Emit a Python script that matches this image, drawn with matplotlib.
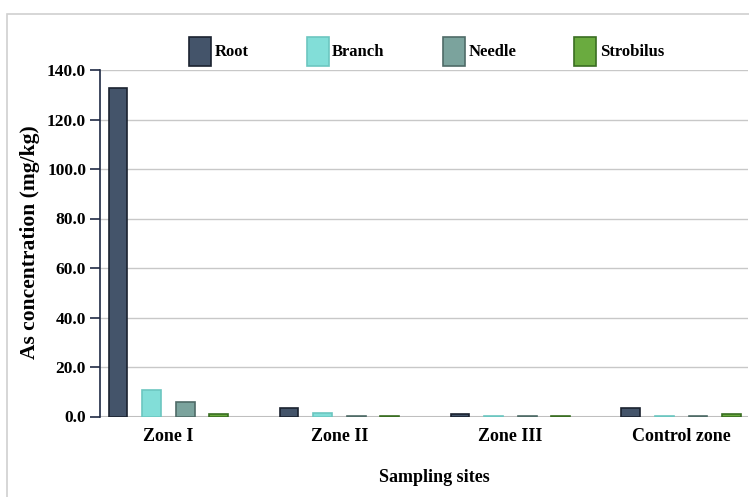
import numpy as np
import matplotlib.pyplot as plt
from matplotlib.patches import Rectangle

# data
sites = ["Zone I", "Zone II", "Zone III", "Control zone"]
root = [132.6, 3.6, 1.0, 3.6]
branch = [10.7, 1.3, 0.1, 0.05]
needle = [6.0, 0.4, 0.1, 0.2]
strobilus = [0.9, 0.2, 0.1, 0.9]

series = [("Root", root, "#44546A", "#1B2230"),
          ("Branch", branch, "#82DED8", "#6CC6C0"),
          ("Needle", needle, "#7BA39D", "#4F6B67"),
          ("Strobilus", strobilus, "#6AAB3F", "#3A6E22")]

plt.rcParams['font.family'] = ['Liberation Serif', 'DejaVu Serif']
plt.rcParams['font.weight'] = 'bold'

fig = plt.figure(figsize=(7.49, 4.97), dpi=100)
ax = fig.add_axes([100/749, 1-416.5/497, 648/749, 346.5/497])

x = np.arange(len(sites))
offsets = [-0.295, -0.098, 0.098, 0.295]
handles = []
for (name, vals, fc, ec), off in zip(series, offsets):
    b = ax.bar(x + off, vals, width=0.11, color=fc, edgecolor=ec, linewidth=1.2, zorder=3, label=name)
    handles.append(b)

ax.set_ylim(0, 140)
ax.set_xlim(-0.4, 3.39)
ax.set_yticks(np.arange(0, 141, 20))
ax.set_yticklabels([f"{v:.1f}" for v in np.arange(0, 141, 20)], fontsize=12.5, fontweight='bold')
ax.set_xticks(x)
ax.set_xticklabels(sites, fontsize=13, fontweight='bold')
ax.tick_params(axis='x', length=0, pad=8)
ax.tick_params(axis='y', length=7, width=1.2, color='#1F2A44', pad=3)
ax.grid(axis='y', color='#C8C8C8', linewidth=1, zorder=0)
for s in ['top', 'right', 'bottom']:
    ax.spines[s].set_visible(False)
ax.spines['left'].set_color('#1F2A44')
ax.spines['left'].set_linewidth(1.2)
ax.axhline(0, color='#BFBFBF', linewidth=1.5, zorder=2)

ax.set_ylabel("As concentration (mg/kg)", fontsize=15.5, fontweight='bold')
ax.yaxis.set_label_coords(-70/648, (416.5-242)/346.5)
ax.set_xlabel("Sampling sites", fontsize=13, fontweight='bold')
ax.xaxis.set_label_coords((434-100)/648, -(478-416.5)/346.5)
ax.xaxis.label.set_va('center')
ax.yaxis.label.set_va('center')

fig.legend(handles=handles, loc='center', bbox_to_anchor=(426.5/749, 1-51/497), ncol=4,
           frameon=False, handlelength=1.32, handleheight=2.3,
           handletextpad=0.2, columnspacing=3.5, prop={'weight': 'bold', 'size': 12})

# light frame around the chart
fig.add_artist(Rectangle((7/749, -0.1), 1.1, 1.1 - 14/497, transform=fig.transFigure,
                         fill=False, edgecolor='#D0D0D0', linewidth=1.2))

fig.savefig("out.png", dpi=100)
